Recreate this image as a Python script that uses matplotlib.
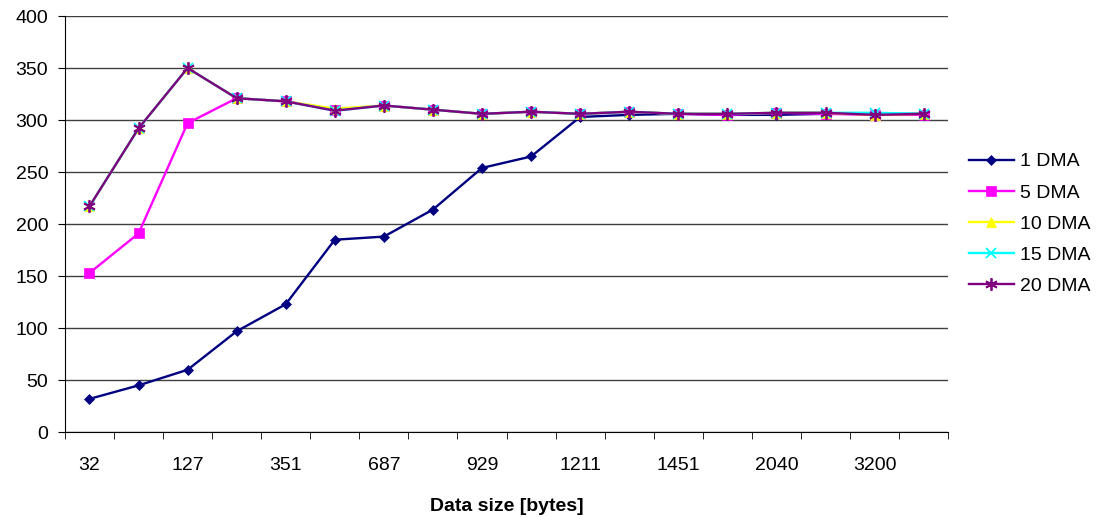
import numpy as np
import matplotlib.pyplot as plt

# Data
SIZE_LABELS = ["32", "", "127", "", "351", "", "687", "", "929", "",
               "1211", "", "1451", "", "2040", "", "3200", ""]
DMA_1 = [32, 45, 60, 97, 123, 185, 188, 214, 254, 265, 303, 305, 306, 305, 305, 306, 306, 306]
DMA_5 = [153, 191, 297, 321, 318, 310, 314, 310, 306, 308, 306, 308, 306, 305, 307, 306, 305, 305]
DMA_10 = [217, 292, 350, 321, 318, 311, 314, 310, 306, 308, 306, 308, 306, 306, 307, 307, 305, 306]
DMA_15 = [217, 292, 350, 321, 318, 309, 314, 310, 306, 308, 306, 308, 306, 306, 307, 307, 307, 306]
DMA_20 = [217, 292, 350, 321, 318, 309, 314, 310, 306, 308, 306, 308, 306, 306, 307, 307, 305, 306]

SERIES = [
    ("1 DMA", DMA_1, "#000080", "D", 5.5),
    ("5 DMA", DMA_5, "#FF00FF", "s", 6.5),
    ("10 DMA", DMA_10, "#FFFF00", "^", 6.5),
    ("15 DMA", DMA_15, "#00FFFF", "x", 6.5),
    ("20 DMA", DMA_20, "#800080", (6, 2, 0), 9),
]

FS = 14
plt.rcParams['font.family'] = ['Liberation Sans', 'DejaVu Sans']

fig = plt.figure(figsize=(11, 5.17), dpi=100)
ax = fig.add_axes([0.059, 0.164, 0.803, 0.805])

x = np.arange(len(SIZE_LABELS))
for name, vals, color, marker, ms in SERIES:
    ax.plot(x, vals, color=color, marker=marker, markersize=ms, linewidth=1.7,
            markeredgewidth=1.3 if marker in ("x", (6, 2, 0)) else 0.5,
            markeredgecolor=color, label=name)

ax.set_xlim(-0.5, len(SIZE_LABELS) - 0.5)
ax.set_ylim(0, 400)
ax.set_yticks(np.arange(0, 401, 50))
ax.yaxis.grid(True, color='#404040', linewidth=1.0)
ax.set_axisbelow(True)

ax.set_xticks(x)
ax.set_xticklabels(SIZE_LABELS)
ax.set_xticks(np.arange(-0.5, len(SIZE_LABELS)), minor=True)
ax.tick_params(axis='x', which='major', length=0, pad=18, labelsize=FS)
ax.tick_params(axis='x', which='minor', length=5, direction='out')
ax.tick_params(axis='y', length=5, direction='out', pad=7, labelsize=FS)

for side in ('top', 'right'):
    ax.spines[side].set_visible(False)

ax.set_xlabel("Data size [bytes]", fontsize=FS, fontweight='bold', labelpad=17)

ax.legend(loc='center left', bbox_to_anchor=(969 / 1100, 1 - 224 / 517),
          bbox_transform=fig.transFigure, frameon=False, borderpad=0,
          borderaxespad=0, fontsize=FS, handlelength=2.3, handletextpad=0.3,
          labelspacing=0.7)

fig.savefig("out.png", dpi=100)
